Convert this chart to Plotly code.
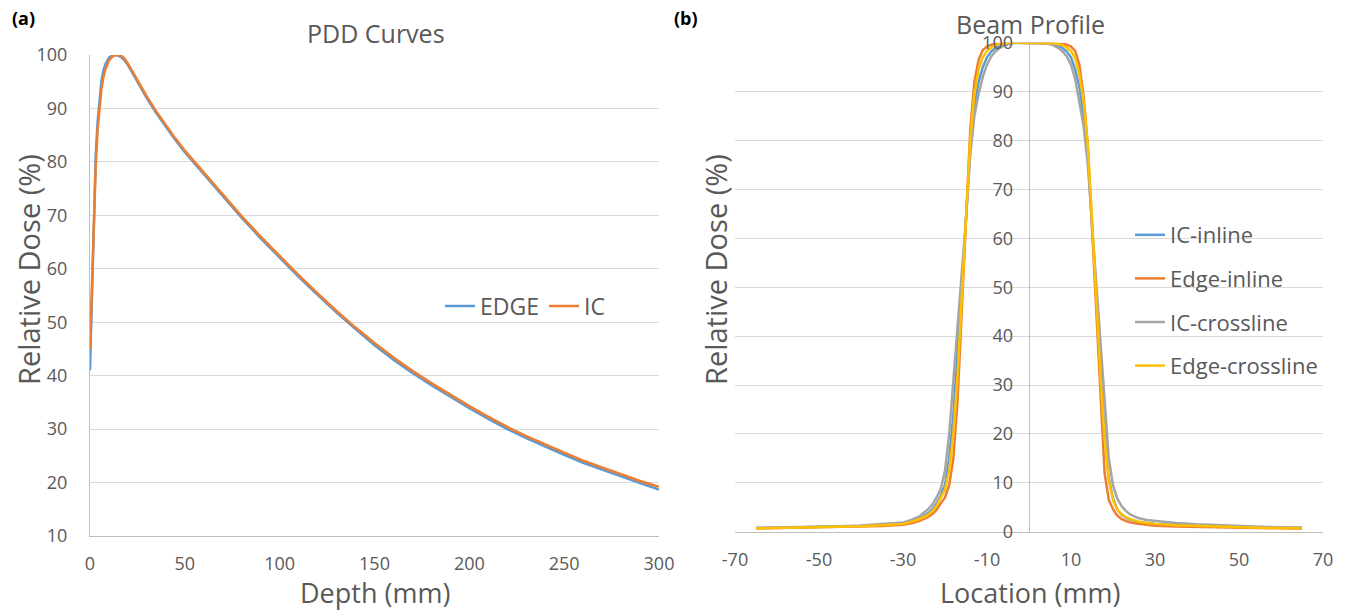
import plotly.graph_objects as go

# ---------------- PDD curves (panel a) ----------------
depth_mm = [0, 1, 2, 3, 4, 5, 6, 7, 8, 10, 12, 14, 16, 18, 20, 25, 30, 35, 40,
            45, 50, 60, 70, 80, 90, 100, 110, 120, 130, 140, 150, 160, 170, 180,
            190, 200, 210, 220, 230, 240, 250, 260, 270, 280, 290, 300]

pdd_edge = [41, 56, 71, 81, 87.5, 92, 95, 97, 98.2, 99.5, 100, 100, 99.7, 99.1, 98.1,
            95.0, 91.9, 89.1, 86.5, 84.1, 81.8, 77.7, 73.6, 69.5, 65.7, 62.0, 58.5,
            55.1, 51.8, 48.7, 45.7, 43.0, 40.5, 38.2, 36.0, 33.9, 31.9, 30.0,
            28.3, 26.7, 25.2, 23.7, 22.4, 21.1, 19.9, 18.7]

pdd_ic = [45, 58, 70, 79, 86, 90.5, 93.5, 95.7, 97.2, 99, 99.8, 100, 100, 99.4, 98.4,
          95.3, 92.2, 89.4, 86.8, 84.4, 82.1, 78, 73.9, 69.8, 66, 62.3, 58.8, 55.4,
          52.1, 49, 46.1, 43.4, 40.9, 38.6, 36.4, 34.3, 32.3, 30.4, 28.7, 27.1,
          25.6, 24.1, 22.8, 21.5, 20.3, 19.2]

# ---------------- Beam profiles (panel b) ----------------
location_mm = [-65, -60, -55, -50, -45, -40, -35, -30, -28, -26, -24, -23, -22,
               -21, -20, -19, -18, -17, -16, -15, -14, -13, -12, -11, -10, -9,
               -8, -7, -6, -5, -4, -2, 0, 2, 4, 5, 6, 7, 8, 9, 10, 11, 12, 13,
               14, 15, 16, 17, 18, 19, 20, 21, 22, 23, 24, 26, 28, 30, 35, 40,
               45, 50, 55, 60, 65]

ic_inline = [0.75, 0.8, 0.85, 0.95, 1.05, 1.15, 1.35, 1.7, 2.1, 2.7, 3.8, 4.6, 5.8,
             7.4, 9.6, 15, 24, 36, 50, 64, 78, 87, 92, 95, 97, 98.2,
             98.9, 99.4, 99.7, 99.9, 100, 100, 100, 100, 100, 99.9, 99.7, 99.4, 98.9, 98.2,
             97, 94.5, 91, 85, 77, 63, 48, 33, 20, 11, 6.8, 4.6, 3.5, 2.9, 2.5,
             2.0, 1.75, 1.6, 1.35, 1.2, 1.05, 0.95, 0.85, 0.8, 0.75]

edge_inline = [0.7, 0.75, 0.8, 0.85, 0.9, 1.0, 1.15, 1.4, 1.7, 2.2, 3.0, 3.6, 4.5,
               5.8, 7.0, 9.5, 15, 27, 45, 64, 82, 92, 96.5, 98.5, 99.2, 99.6,
               99.8, 99.9, 100, 100, 100, 100, 100, 100, 100, 100, 100, 99.9, 99.8, 99.6,
               99.2, 98.3, 95.5, 89, 79, 62, 44, 27, 12, 6.5, 4.6, 3.3, 2.6, 2.2, 1.9,
               1.6, 1.35, 1.2, 1.05, 0.95, 0.85, 0.8, 0.75, 0.7, 0.65]

ic_crossline = [0.8, 0.85, 0.9, 1.0, 1.1, 1.25, 1.5, 1.9, 2.4, 3.2, 4.6, 5.6, 7.0,
                8.8, 12.5, 20, 31, 42, 53, 64, 77, 85, 89.5, 93, 95.5, 97.2,
                98.2, 98.9, 99.4, 99.7, 99.9, 100, 100, 100, 99.9, 99.7, 99.4, 98.9, 98.2, 97.2,
                95.5, 92.5, 88, 83, 75, 63, 51, 39, 27, 15, 9.5, 6.8, 5.3, 4.3, 3.6,
                2.8, 2.4, 2.2, 1.8, 1.5, 1.3, 1.15, 1.0, 0.9, 0.85]

edge_crossline = [0.7, 0.75, 0.8, 0.9, 1.0, 1.1, 1.3, 1.6, 2.0, 2.6, 3.5, 4.2, 5.3,
                  6.8, 8.6, 12.5, 20, 32, 48, 64, 80, 89.5, 94.5, 97, 98.3, 99,
                  99.5, 99.7, 99.9, 100, 100, 100, 100, 100, 100, 100, 99.9, 99.7, 99.5, 99,
                  98.3, 96.8, 93.5, 88, 79, 64, 48, 32, 19, 10.5, 6.5, 4.6, 3.6, 3.0, 2.6,
                  2.1, 1.8, 1.6, 1.3, 1.15, 1.0, 0.9, 0.8, 0.75, 0.7]

location_ticks = [-70, -50, -30, -10, 10, 30, 50, 70]
location_tick_text = ["-70", "-50", "-30", "-10", "10", "30", "50", "70"]

BLUE = "#5B9BD5"
ORANGE = "#ED7D31"
GREY = "#A5A5A5"
YELLOW = "#FFC000"
TEXT = "#595959"
GRID = "#D9D9D9"
AXIS = "#BFBFBF"
FONT = "Open Sans"

W, H = 1345, 610

fig = go.Figure()

# Panel (a)
fig.add_trace(go.Scatter(x=depth_mm, y=pdd_edge, mode="lines", name="EDGE",
                         line=dict(color=BLUE, width=2.5), xaxis="x", yaxis="y",
                         legend="legend"))
fig.add_trace(go.Scatter(x=depth_mm, y=pdd_ic, mode="lines", name="IC",
                         line=dict(color=ORANGE, width=2.5), xaxis="x", yaxis="y",
                         legend="legend"))

# Panel (b)
profiles = [("IC-inline", ic_inline, BLUE),
            ("Edge-inline", edge_inline, ORANGE),
            ("IC-crossline", ic_crossline, GREY),
            ("Edge-crossline", edge_crossline, YELLOW)]
for name, vals, col in profiles:
    fig.add_trace(go.Scatter(x=location_mm, y=vals, mode="lines", name=name,
                             line=dict(color=col, width=2.5), xaxis="x2", yaxis="y2",
                             legend="legend2", legendgroup=name))

tick_font = dict(family=FONT, size=18, color=TEXT)


def px_x(p):
    return p / W


def px_y(p):
    return 1 - p / H


fig.update_layout(
    width=W, height=H,
    margin=dict(l=0, r=0, t=0, b=0, autoexpand=False),
    paper_bgcolor="white", plot_bgcolor="white",
    font=dict(family=FONT, color=TEXT),
    xaxis=dict(domain=[px_x(90), px_x(659)], range=[0, 300], dtick=50,
               showgrid=False, zeroline=False, showline=True, linecolor=AXIS,
               linewidth=1, ticks="", tickfont=tick_font, ticklabelstandoff=11,
               anchor="y", automargin=False),
    yaxis=dict(domain=[px_y(536), px_y(55)], range=[10, 100], dtick=10,
               showgrid=True, gridcolor=GRID, gridwidth=1, zeroline=False,
               showline=True, linecolor=AXIS, linewidth=1, ticks="",
               tickfont=tick_font, ticklabelstandoff=18, anchor="x",
               automargin=False),
    xaxis2=dict(domain=[px_x(735), px_x(1323)], range=[-70, 70],
                tickvals=location_ticks, ticktext=location_tick_text,
                showgrid=False, zeroline=True, zerolinecolor=AXIS, zerolinewidth=1,
                showline=True, linecolor=AXIS, linewidth=1, ticks="",
                tickfont=tick_font, ticklabelstandoff=12, anchor="y2",
                automargin=False),
    yaxis2=dict(domain=[px_y(531.7), px_y(42.7)], range=[0, 100], dtick=10,
                showgrid=True, gridcolor=GRID, gridwidth=1, zeroline=False,
                showline=False, ticks="", tickfont=tick_font,
                anchor="free", position=px_x(1029), ticklabelstandoff=16,
                automargin=False),
    legend=dict(orientation="h", x=px_x(440), y=px_y(306), xanchor="left",
                yanchor="middle", bgcolor="rgba(0,0,0,0)",
                font=dict(family=FONT, size=23, color=TEXT), itemwidth=30),
    legend2=dict(orientation="v", x=px_x(1130), y=px_y(214), xanchor="left",
                 yanchor="top", bgcolor="rgba(0,0,0,0)", tracegroupgap=12,
                 font=dict(family=FONT, size=22, color=TEXT), itemwidth=30),
    showlegend=True,
)

annotations = [
    dict(text="<b>(a)</b>", x=px_x(10), y=px_y(18), xanchor="left", yanchor="middle",
         font=dict(family=FONT, size=18, color="black")),
    dict(text="<b>(b)</b>", x=px_x(672), y=px_y(18), xanchor="left", yanchor="middle",
         font=dict(family=FONT, size=18, color="black")),
    dict(text="PDD Curves", x=px_x(376), y=px_y(33), xanchor="center", yanchor="middle",
         font=dict(family=FONT, size=25, color=TEXT)),
    dict(text="Beam Profile", x=px_x(1030), y=px_y(24), xanchor="center", yanchor="middle",
         font=dict(family=FONT, size=25, color=TEXT)),
    dict(text="Relative Dose (%)", x=px_x(28), y=px_y(270), xanchor="center",
         yanchor="middle", textangle=-90, font=dict(family=FONT, size=29, color=TEXT)),
    dict(text="Relative Dose (%)", x=px_x(715), y=px_y(270), xanchor="center",
         yanchor="middle", textangle=-90, font=dict(family=FONT, size=29, color=TEXT)),
    dict(text="Depth (mm)", x=px_x(375), y=px_y(592), xanchor="center", yanchor="middle",
         font=dict(family=FONT, size=27, color=TEXT)),
    dict(text="Location (mm)", x=px_x(1030), y=px_y(592), xanchor="center",
         yanchor="middle", font=dict(family=FONT, size=27, color=TEXT)),
]
for a in annotations:
    a.update(xref="paper", yref="paper", showarrow=False)
fig.update_layout(annotations=annotations)

fig.write_html("out.html")
